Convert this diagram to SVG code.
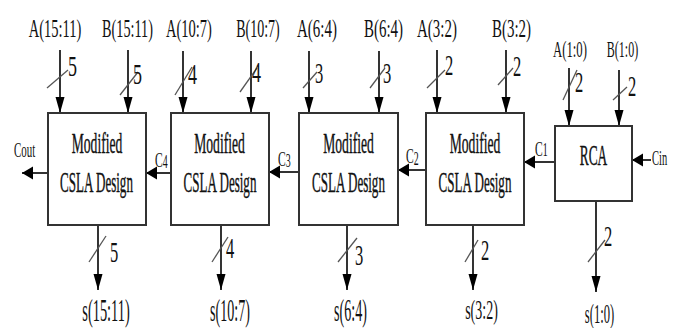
<svg xmlns="http://www.w3.org/2000/svg" width="678" height="328" viewBox="0 0 678 328">
  <style>
    .blk { fill: #fff; stroke: #333; stroke-width: 2; }
    .wire { stroke: #000; stroke-width: 1.6; fill: none; }
    .down { marker-end: url(#arrDown); }
    .left { marker-end: url(#arrLeft); }
    .bus { stroke: #555; stroke-width: 1.3; }
    text { font-family: "Liberation Serif", "Times New Roman", serif; fill: #111; }
    .mid { text-anchor: middle; }
    .in { font-size: 25px; }
    .in2 { font-size: 24px; }
    .w { font-size: 30px; }
    .out { font-size: 32px; }
    .out2 { font-size: 28px; }
    .lbl { font-size: 29px; stroke: #111; stroke-width: 0.4; }
    .cy { font-size: 21px; }
    .sub { font-size: 18px; }
  </style>
  <defs>
    <marker id="arrDown" markerUnits="userSpaceOnUse" viewBox="0 -5 16 10" markerWidth="16" markerHeight="10" refX="16" refY="0" orient="auto">
      <path d="M0,-4.5 L16,0 L0,4.5 z" fill="#000"/>
    </marker>
    <marker id="arrLeft" markerUnits="userSpaceOnUse" viewBox="0 -7 11 14" markerWidth="11" markerHeight="14" refX="11" refY="0" orient="auto">
      <path d="M0,-6.5 L11,0 L0,6.5 z" fill="#000"/>
    </marker>
  </defs>

  <!-- connectors: operand buses, sum buses and carry chain -->
  <g id="connectors">
    <!-- operand inputs -->
    <line class="wire down" x1="60" y1="50" x2="60" y2="113"/>
    <line class="wire down" x1="128" y1="50" x2="128" y2="113"/>
    <line class="wire down" x1="183" y1="51" x2="183" y2="113"/>
    <line class="wire down" x1="251" y1="51" x2="251" y2="113"/>
    <line class="wire down" x1="309" y1="51" x2="309" y2="113"/>
    <line class="wire down" x1="379" y1="51" x2="379" y2="113"/>
    <line class="wire down" x1="437" y1="50" x2="437" y2="113"/>
    <line class="wire down" x1="506" y1="50" x2="506" y2="113"/>
    <line class="wire down" x1="569" y1="68" x2="569" y2="126"/>
    <line class="wire down" x1="619" y1="70" x2="619" y2="126"/>
    <!-- bus-width slashes on inputs -->
    <line class="bus" x1="47" y1="88" x2="68" y2="70"/>
    <line class="bus" x1="120" y1="95" x2="138" y2="72"/>
    <line class="bus" x1="175" y1="95" x2="192" y2="67"/>
    <line class="bus" x1="240" y1="92" x2="257" y2="68"/>
    <line class="bus" x1="303" y1="88" x2="317" y2="72"/>
    <line class="bus" x1="370" y1="88" x2="385" y2="68"/>
    <line class="bus" x1="427" y1="88" x2="445" y2="70"/>
    <line class="bus" x1="498" y1="85" x2="513" y2="68"/>
    <line class="bus" x1="563" y1="100" x2="577" y2="70"/>
    <line class="bus" x1="613" y1="100" x2="627" y2="87"/>
    <!-- sum outputs -->
    <line class="wire down" x1="98" y1="225" x2="98" y2="290"/>
    <line class="wire down" x1="221" y1="225" x2="221" y2="290"/>
    <line class="wire down" x1="347" y1="225" x2="347" y2="290"/>
    <line class="wire down" x1="473" y1="225" x2="473" y2="290"/>
    <line class="wire down" x1="596" y1="201" x2="596" y2="292"/>
    <!-- bus-width slashes on outputs -->
    <line class="bus" x1="89" y1="262" x2="106" y2="236"/>
    <line class="bus" x1="212" y1="262" x2="228" y2="237"/>
    <line class="bus" x1="338" y1="262" x2="357" y2="238"/>
    <line class="bus" x1="465" y1="262" x2="478" y2="240"/>
    <line class="bus" x1="588" y1="262" x2="605" y2="240"/>
    <!-- carry chain -->
    <line class="wire left" x1="48" y1="173" x2="22" y2="173"/>
    <line class="wire left" x1="171" y1="173" x2="146" y2="173"/>
    <line class="wire left" x1="299" y1="172" x2="269" y2="172"/>
    <line class="wire left" x1="426" y1="170" x2="398" y2="170"/>
    <line class="wire left" x1="555" y1="162" x2="524" y2="162"/>
    <line class="wire left" x1="651" y1="160" x2="632" y2="160"/>
  </g>

  <!-- operand labels and bus widths -->
  <g id="inputs">
    <text class="in mid" transform="translate(55,37) scale(0.58,1)">A(15:11)</text>
    <text class="in mid" transform="translate(127.5,37) scale(0.57,1)">B(15:11)</text>
    <text class="in mid" transform="translate(189,37) scale(0.58,1)">A(10:7)</text>
    <text class="in mid" transform="translate(258,37) scale(0.56,1)">B(10:7)</text>
    <text class="in mid" transform="translate(317,37) scale(0.6,1)">A(6:4)</text>
    <text class="in mid" transform="translate(383.5,37) scale(0.6,1)">B(6:4)</text>
    <text class="in mid" transform="translate(437,37) scale(0.6,1)">A(3:2)</text>
    <text class="in mid" transform="translate(511.5,37) scale(0.6,1)">B(3:2)</text>
    <text class="in2 mid" transform="translate(570,57) scale(0.53,1)">A(1:0)</text>
    <text class="in2 mid" transform="translate(622.5,57) scale(0.5,1)">B(1:0)</text>
    <text class="w" transform="translate(68,76) scale(0.6,1)">5</text>
    <text class="w" transform="translate(133,84) scale(0.6,1)">5</text>
    <text class="w" transform="translate(188,84) scale(0.6,1)">4</text>
    <text class="w" transform="translate(252,82) scale(0.6,1)">4</text>
    <text class="w" transform="translate(315,83) scale(0.55,1)">3</text>
    <text class="w" transform="translate(383,83) scale(0.55,1)">3</text>
    <text class="w" transform="translate(445,75) scale(0.55,1)">2</text>
    <text class="w" transform="translate(513,76) scale(0.55,1)">2</text>
    <text class="w" transform="translate(575,92) scale(0.55,1)">2</text>
    <text class="w" transform="translate(628,96) scale(0.55,1)">2</text>
  </g>

  <!-- adder blocks -->
  <g id="csla4">
    <rect class="blk" x="48" y="113" width="98" height="112"/>
    <text class="lbl mid" transform="translate(97,153) scale(0.47,1)">Modified</text>
    <text class="lbl mid" transform="translate(96.5,192) scale(0.45,1)">CSLA Design</text>
  </g>
  <g id="csla3">
    <rect class="blk" x="171" y="113" width="98" height="112"/>
    <text class="lbl mid" transform="translate(219.5,153) scale(0.47,1)">Modified</text>
    <text class="lbl mid" transform="translate(220,192) scale(0.45,1)">CSLA Design</text>
  </g>
  <g id="csla2">
    <rect class="blk" x="299" y="113" width="99" height="112"/>
    <text class="lbl mid" transform="translate(348.5,153) scale(0.47,1)">Modified</text>
    <text class="lbl mid" transform="translate(348.5,192) scale(0.45,1)">CSLA Design</text>
  </g>
  <g id="csla1">
    <rect class="blk" x="426" y="113" width="98" height="112"/>
    <text class="lbl mid" transform="translate(475,153) scale(0.47,1)">Modified</text>
    <text class="lbl mid" transform="translate(475,192) scale(0.45,1)">CSLA Design</text>
  </g>
  <g id="rca">
    <rect class="blk" x="555" y="126" width="77" height="75"/>
    <text class="lbl mid" transform="translate(593.5,165) scale(0.46,1)">RCA</text>
  </g>

  <!-- carry labels -->
  <g id="carries">
    <text class="cy" transform="translate(14,157) scale(0.52,1)">Cout</text>
    <text class="cy" transform="translate(155,167) scale(0.55,1)">C<tspan class="sub" dy="1">4</tspan></text>
    <text class="cy" transform="translate(278,166) scale(0.55,1)">C<tspan class="sub" dy="1">3</tspan></text>
    <text class="cy" transform="translate(406,163) scale(0.55,1)">C<tspan class="sub" dy="2">2</tspan></text>
    <text class="cy" transform="translate(535,156) scale(0.55,1)">C<tspan class="sub" dy="0">1</tspan></text>
    <text class="cy" transform="translate(652,165) scale(0.5,1)">Cin</text>
  </g>

  <!-- sum labels and bus widths -->
  <g id="outputs">
    <text class="w" transform="translate(110,262) scale(0.55,1)">5</text>
    <text class="w" transform="translate(226,258) scale(0.55,1)">4</text>
    <text class="w" transform="translate(355,265) scale(0.55,1)">3</text>
    <text class="w" transform="translate(481,260) scale(0.55,1)">2</text>
    <text class="w" transform="translate(604,246) scale(0.55,1)">2</text>
    <text class="out mid" transform="translate(106,321) scale(0.45,1)">s(15:11)</text>
    <text class="out mid" transform="translate(230,321) scale(0.44,1)">s(10:7)</text>
    <text class="out mid" transform="translate(350.5,321) scale(0.44,1)">s(6:4)</text>
    <text class="out2 mid" transform="translate(481.5,319) scale(0.5,1)">s(3:2)</text>
    <text class="out2 mid" transform="translate(599.5,323) scale(0.45,1)">s(1:0)</text>
  </g>
</svg>
